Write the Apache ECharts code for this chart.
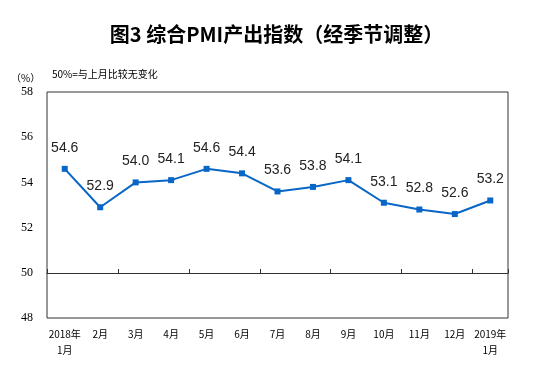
<!DOCTYPE html>
<html><head><meta charset="utf-8">
<script src="https://cdn.jsdelivr.net/npm/echarts@6/dist/echarts.min.js"></script>
<style>html,body{margin:0;padding:0;background:#fff}#c{width:553px;height:389px}</style>
</head><body><div id="c"></div>
<script>
var categories = ['2018年\n1月','2月','3月','4月','5月','6月','7月','8月','9月','10月','11月','12月','2019年\n1月'];
var values = [54.6, 52.9, 54.0, 54.1, 54.6, 54.4, 53.6, 53.8, 54.1, 53.1, 52.8, 52.6, 53.2];
var yTicks = [48, 50, 52, 54, 56, 58];
var title = '图3 综合PMI产出指数（经季节调整）';
var unit = '（%）';
var note = '50%=与上月比较无变化';

var chart = echarts.init(document.getElementById('c'));
chart.setOption({
  animation: false,
  backgroundColor: '#fff',
  title: [
    {text: title, left: 'center', top: 19, textStyle: {fontFamily: 'Noto Sans CJK SC', fontSize: 20, fontWeight: 'bold', color: '#000'}},
    {text: unit, left: 6, top: 68, textStyle: {fontFamily: 'Noto Sans CJK SC', fontSize: 10, fontWeight: 'normal', color: '#000'}},
    {text: note, left: 47, top: 64, textStyle: {fontFamily: 'Noto Sans CJK SC', fontSize: 10, fontWeight: 'normal', color: '#000'}}
  ],
  grid: {left: 47, right: 45, top: 92, bottom: 71, show: true, borderColor: '#333', borderWidth: 1, backgroundColor: 'transparent'},
  xAxis: [
    {type: 'category', data: categories, position: 'bottom', boundaryGap: true,
     axisLine: {show: false}, axisTick: {show: false},
     axisLabel: {fontFamily: 'Noto Sans CJK SC', fontSize: 10, color: '#000', margin: 8, interval: 0, lineHeight: 16}},
    {type: 'category', data: categories, position: 'bottom', offset: -45, boundaryGap: true,
     axisLine: {show: true, lineStyle: {color: '#333', width: 1}},
     axisTick: {show: true, inside: true, length: 4, lineStyle: {color: '#333'}},
     axisLabel: {show: false}}
  ],
  yAxis: {type: 'value', min: 48, max: 58, interval: 2,
    axisLine: {show: false}, axisTick: {show: false}, splitLine: {show: false},
    axisLabel: {fontFamily: 'Liberation Serif', fontSize: 12, color: '#000', margin: 14}},
  series: [{
    type: 'line', data: values, xAxisIndex: 0,
    symbol: 'rect', symbolSize: 6,
    lineStyle: {color: '#0866c6', width: 2},
    itemStyle: {color: '#0866c6'},
    label: {show: true, position: 'top', distance: 11, fontFamily: 'Liberation Sans', fontSize: 14, color: '#222',
      formatter: function(p){return p.value.toFixed(1);}}
  }]
});
</script></body></html>
